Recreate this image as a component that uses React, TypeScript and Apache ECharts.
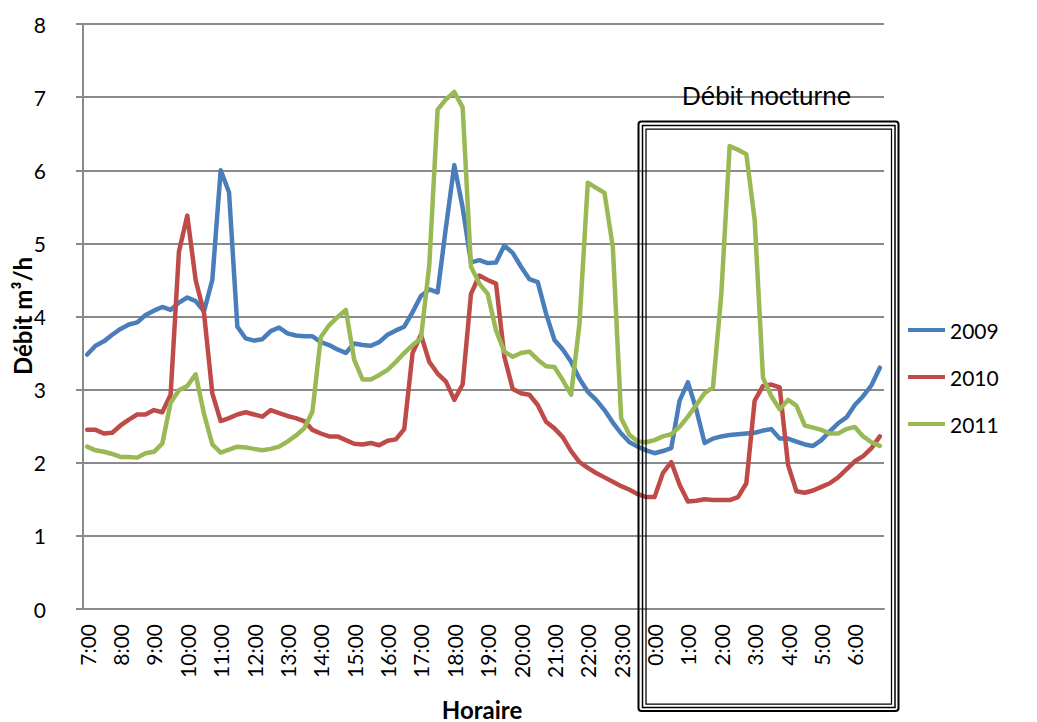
import React, { useEffect, useRef } from "react";
import * as echarts from "echarts";

// Hours of the day shown on the category axis (7:00 through 6:00 the next morning)
const hours = [7, 8, 9, 10, 11, 12, 13, 14, 15, 16, 17, 18, 19, 20, 21, 22, 23, 0, 1, 2, 3, 4, 5, 6];
const quarters = ["00", "15", "30", "45"];
const categories = hours.flatMap((h) => quarters.map((q) => `${h}:${q}`));

const yTicks = [0, 1, 2, 3, 4, 5, 6, 7, 8];

// Flow readings, one every 15 minutes (m³/h)
const flow2009 = [
  3.48, 3.6, 3.66, 3.75, 3.83, 3.89, 3.92, 4.02, 4.08, 4.13, 4.09, 4.19, 4.26, 4.21, 4.07, 4.5, 6.0, 5.7, 3.86, 3.7,
  3.67, 3.69, 3.8, 3.85, 3.77, 3.74, 3.73, 3.73, 3.65, 3.61, 3.55, 3.5, 3.63, 3.61, 3.6, 3.65, 3.75, 3.81, 3.86,
  4.06, 4.28, 4.37, 4.33, 5.22, 6.07, 5.49, 4.74, 4.77, 4.73, 4.74, 4.97, 4.87, 4.68, 4.51, 4.47, 4.04, 3.68, 3.55,
  3.38, 3.15, 2.97, 2.86, 2.72, 2.55, 2.4, 2.28, 2.22, 2.17, 2.13, 2.16, 2.2, 2.85, 3.1, 2.73, 2.27, 2.33, 2.36, 2.38,
  2.39, 2.4, 2.41, 2.44, 2.46, 2.33, 2.33, 2.29, 2.25, 2.23, 2.31, 2.43, 2.54, 2.62, 2.79, 2.91, 3.06, 3.3,
];

const flow2010 = [
  2.45, 2.45, 2.4, 2.41, 2.51, 2.59, 2.66, 2.66, 2.72, 2.69, 2.93, 4.89, 5.38, 4.5, 4.05, 2.95, 2.57, 2.61, 2.66, 2.69,
  2.66, 2.63, 2.72, 2.68, 2.64, 2.61, 2.57, 2.45, 2.4, 2.36, 2.36, 2.31, 2.26, 2.25, 2.27, 2.24, 2.3, 2.32, 2.46,
  3.5, 3.75, 3.38, 3.22, 3.11, 2.86, 3.07, 4.31, 4.56, 4.5, 4.45, 3.45, 3.01, 2.95, 2.93, 2.79, 2.56, 2.47, 2.35,
  2.16, 2.01, 1.93, 1.86, 1.8, 1.74, 1.68, 1.63, 1.57, 1.53, 1.53, 1.86, 2.01, 1.7, 1.47, 1.48, 1.5, 1.49, 1.49, 1.49,
  1.53, 1.72, 2.85, 3.05, 3.07, 3.03, 1.97, 1.61, 1.59, 1.62, 1.67, 1.72, 1.8, 1.91, 2.02, 2.09, 2.2, 2.36,
];

const flow2011 = [
  2.22, 2.17, 2.15, 2.12, 2.08, 2.08, 2.07, 2.13, 2.15, 2.26, 2.82, 2.99, 3.05, 3.21, 2.67, 2.25, 2.14, 2.18, 2.22, 2.21,
  2.19, 2.17, 2.19, 2.22, 2.29, 2.37, 2.47, 2.7, 3.72, 3.88, 3.99, 4.09, 3.41, 3.14, 3.14, 3.2, 3.27, 3.38, 3.5,
  3.61, 3.7, 4.7, 6.83, 6.97, 7.07, 6.86, 4.68, 4.45, 4.31, 3.81, 3.52, 3.45, 3.5, 3.52, 3.41, 3.32, 3.31, 3.13,
  2.93, 3.9, 5.83, 5.76, 5.69, 4.95, 2.61, 2.38, 2.29, 2.28, 2.31, 2.36, 2.39, 2.49, 2.63, 2.79, 2.95, 3.03, 4.3, 6.33,
  6.28, 6.22, 5.32, 3.16, 2.91, 2.73, 2.86, 2.78, 2.51, 2.48, 2.45, 2.4, 2.4, 2.46, 2.49, 2.36, 2.28, 2.23,
];

const seriesNames = ["2009", "2010", "2011"];
const seriesColors = ["#4A7EBB", "#BE4B48", "#98B954"];
const seriesData = [flow2009, flow2010, flow2011];

const labelFont = "Lato, 'Noto Sans', sans-serif";
const gridGray = "#8A8A8A";

export default function App() {
  const ref = useRef<HTMLDivElement>(null);

  useEffect(() => {
    if (!ref.current) return;
    const chart = echarts.init(ref.current, undefined, { renderer: "svg" });

    chart.setOption({
      animation: false,
      backgroundColor: "#ffffff",
      grid: {
        left: 83,
        right: 153,
        top: 24,
        bottom: 113,
        containLabel: false,
        outerBoundsMode: "none",
      },
      legend: {
        orient: "vertical",
        left: 908,
        top: 318,
        padding: 0,
        itemWidth: 37,
        itemHeight: 4,
        itemGap: 23,
        icon: "rect",
        data: seriesNames,
        textStyle: { fontFamily: labelFont, fontSize: 21, color: "#000", lineHeight: 24 },
      },
      xAxis: {
        type: "category",
        data: categories,
        boundaryGap: true,
        axisLine: { lineStyle: { color: gridGray, width: 2 } },
        axisTick: { show: false },
        axisLabel: {
          interval: 3,
          rotate: 90,
          margin: 15,
          fontFamily: labelFont,
          fontSize: 21,
          color: "#000",
        },
      },
      yAxis: {
        type: "value",
        min: 0,
        max: 8,
        interval: 1,
        axisLine: { show: true, lineStyle: { color: gridGray, width: 2 } },
        axisTick: { show: true, length: 7, lineStyle: { color: gridGray, width: 2 } },
        axisLabel: {
          margin: 37,
          fontFamily: labelFont,
          fontSize: 21,
          color: "#000",
          formatter: (v: number) => (yTicks.includes(v) ? String(v) : ""),
        },
        splitLine: { show: true, lineStyle: { color: gridGray, width: 2 } },
      },
      series: seriesNames.map((name, i) => ({
        name,
        type: "line",
        data: seriesData[i],
        symbol: "none",
        smooth: false,
        color: seriesColors[i],
        lineStyle: { color: seriesColors[i], width: 4.5, join: "round", cap: "round" },
      })),
      graphic: [
        {
          type: "text",
          x: 22,
          y: 316,
          rotation: Math.PI / 2,
          style: {
            text: "Débit m³/h",
            font: `bold 24px ${labelFont}`,
            fill: "#000",
            align: "center",
            verticalAlign: "middle",
          },
        },
        {
          type: "text",
          x: 482,
          y: 709,
          style: {
            text: "Horaire",
            font: `bold 24px ${labelFont}`,
            fill: "#000",
            align: "center",
            verticalAlign: "middle",
          },
        },
        {
          type: "text",
          left: 682,
          top: 83,
          style: {
            text: "Débit nocturne",
            font: "26px 'Liberation Sans', Arial, sans-serif",
            fill: "#000",
          },
          z: 100,
        },
        {
          type: "rect",
          shape: { x: 638.5, y: 121.5, width: 260, height: 589.5, r: 3 },
          style: { fill: "none", stroke: "#000", lineWidth: 2 },
          z: 100,
        },
        {
          type: "rect",
          shape: { x: 642.5, y: 125.5, width: 252.5, height: 582 },
          style: { fill: "none", stroke: "#000", lineWidth: 1.5 },
          z: 100,
        },
        {
          type: "rect",
          shape: { x: 646, y: 129, width: 245.5, height: 575 },
          style: { fill: "none", stroke: "#000", lineWidth: 1.25 },
          z: 100,
        },
      ],
    });

    return () => chart.dispose();
  }, []);

  return (
    <div
      ref={ref}
      style={{ position: "absolute", left: 0, top: 0, width: 1037, height: 722 }}
    />
  );
}
